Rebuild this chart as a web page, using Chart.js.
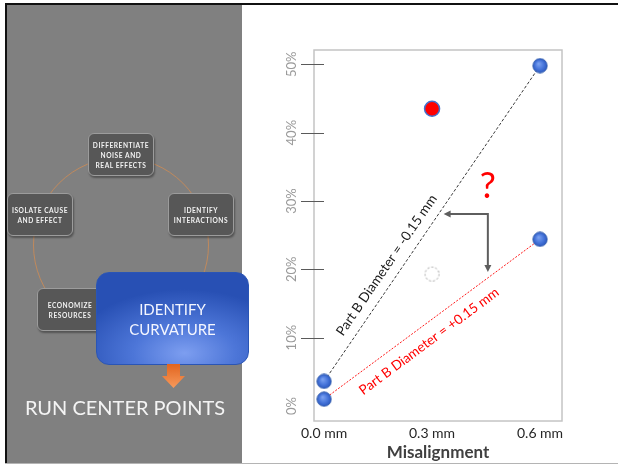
<!DOCTYPE html>
<html>
<head>
<meta charset="utf-8">
<script src="https://cdn.jsdelivr.net/npm/chart.js@4.4.1/dist/chart.umd.min.js"></script>
<style>
  html, body { margin: 0; padding: 0; background: #ffffff; }
  #slide { position: relative; width: 618px; height: 465px; overflow: hidden; background: #ffffff; font-family: Lato, "Open Sans", sans-serif; }
  #chart { position: absolute; left: 0; top: 0; z-index: 1; }
  .frame { position: absolute; z-index: 5; }
  #panel { position: absolute; left: 7px; top: 5px; width: 235px; height: 459px; background: #808080; z-index: 2; }
  #ring { position: absolute; left: 33px; top: 157px; width: 176px; height: 176px; border-radius: 50%;
          border: 1.5px solid rgba(214, 140, 80, 0.75); box-sizing: border-box; z-index: 3; }
  .step { position: absolute; z-index: 4; width: 66px; height: 43px; box-sizing: border-box;
          background: #575757; border: 1.5px solid #9c9c9c; border-radius: 6px;
          box-shadow: 1px 2px 2px rgba(0,0,0,0.35);
          display: flex; align-items: center; justify-content: center; text-align: center;
          color: #f2f2f2; font-family: Lato, sans-serif; font-weight: bold; font-size: 6.6px; line-height: 10px; letter-spacing: 0.55px; }
  #focus { position: absolute; z-index: 6; left: 96px; top: 272px; width: 153px; height: 93px; box-sizing: border-box;
           border-radius: 13px; border: 1px solid #2a55b5;
           background: radial-gradient(ellipse 75% 70% at 58% 88%, #7d9ef0 0%, #4d76d8 45%, #2850b4 100%);
           display: flex; align-items: center; justify-content: center; text-align: center;
           color: #f4f6ff; font-family: Lato, sans-serif; font-size: 15px; line-height: 20px; }
  #down { position: absolute; z-index: 6; left: 160px; top: 364px; }
  #run { position: absolute; z-index: 6; left: 7px; width: 236px; top: 394px; text-align: center;
         color: #f4f4f4; font-family: Lato, sans-serif; font-size: 20px; line-height: 26px; }
</style>
</head>
<body>
<div id="slide">
  <canvas id="chart" width="618" height="465"></canvas>
  <div id="panel"></div>
  <div id="ring"></div>
  <div class="step" style="left:88px;top:133px;">DIFFERENTIATE<br>NOISE AND<br>REAL EFFECTS</div>
  <div class="step" style="left:168px;top:193px;">IDENTIFY<br>INTERACTIONS</div>
  <div class="step" style="left:7px;top:193px;">ISOLATE CAUSE<br>AND EFFECT</div>
  <div class="step" style="left:37px;top:288px;">ECONOMIZE<br>RESOURCES</div>
  <div id="focus">IDENTIFY<br>CURVATURE</div>
  <svg id="down" width="28" height="26" viewBox="0 0 28 26">
    <defs>
      <linearGradient id="og" x1="0" y1="0" x2="0" y2="1">
        <stop offset="0" stop-color="#e2641e"/>
        <stop offset="1" stop-color="#f79a5c"/>
      </linearGradient>
    </defs>
    <polygon points="7,0 20,0 20,12 25,12 13.5,24 2,12 7,12" fill="url(#og)"/>
  </svg>
  <div id="run">RUN CENTER POINTS</div>
  <div class="frame" style="left:5px;top:3px;width:613px;height:2px;background:#111;"></div>
  <div class="frame" style="left:5px;top:3px;width:2px;height:461px;background:#111;"></div>
  <div class="frame" style="left:5px;top:463px;width:613px;height:1px;background:#b4b4b4;"></div>
</div>
<script>
// Misalignment (mm) at the two corner runs and the centre run
const misalignment = [0, 0.6];
const centerMisalignment = [0.3];
// Percentage response for each Part B diameter setting
const minusDiameter = [3.6, 49.8];   // Part B Diameter = -0.15 mm
const plusDiameter = [1.0, 24.4];    // Part B Diameter = +0.15 mm
const centerObserved = [43.5];       // measured centre point
const centerExpected = [19.3];       // centre point expected if linear
// Axis ticks
const xTickValues = [0, 0.3, 0.6];
const yTickValues = [0, 10, 20, 30, 40, 50];
// Line captions and callout
const minusLabel = 'Part B Diameter = -0.15 mm';
const plusLabel = 'Part B Diameter = +0.15 mm';
const questionAt = [0.455, 32.1];
const elbowCorner = [0.455, 28.1];

function toPoints(xs, ys) { return xs.map((x, i) => ({ x: x, y: ys[i] })); }

function makeBall(size, r) {
  const c = document.createElement('canvas');
  c.width = size; c.height = size;
  const g = c.getContext('2d');
  const m = size / 2;
  const grad = g.createRadialGradient(m - 1.5, m - 2, 0.5, m, m, r);
  grad.addColorStop(0, '#7aa0f0');
  grad.addColorStop(0.55, '#4a78dc');
  grad.addColorStop(1, '#2b58c0');
  g.beginPath(); g.arc(m, m, r, 0, Math.PI * 2);
  g.fillStyle = grad; g.fill();
  g.lineWidth = 0.8; g.strokeStyle = '#2f5aa8'; g.stroke();
  return c;
}
function makeRing(size, r) {
  const c = document.createElement('canvas');
  c.width = size; c.height = size;
  const g = c.getContext('2d');
  g.setLineDash([2, 2]);
  g.lineWidth = 1; g.strokeStyle = '#9a9a9a';
  g.beginPath(); g.arc(size / 2, size / 2, r, 0, Math.PI * 2); g.stroke();
  return c;
}
const ball = makeBall(16, 7.2);
const ring = makeRing(17, 7);

const decorations = {
  id: 'decorations',
  beforeDatasetsDraw(chart) {
    const { ctx, chartArea: a, scales: { y } } = chart;
    ctx.save();
    ctx.strokeStyle = '#c4c4c4';
    ctx.lineWidth = 1.5;
    ctx.strokeRect(a.left, a.top, a.right - a.left, a.bottom - a.top);
    // short tick marks crossing the value axis
    ctx.strokeStyle = '#5a5a5a';
    ctx.lineWidth = 1;
    y.ticks.forEach(t => {
      if (t.value === 0) return;
      const py = Math.round(y.getPixelForValue(t.value)) + 0.5;
      ctx.beginPath(); ctx.moveTo(a.left - 13, py); ctx.lineTo(a.left + 10, py); ctx.stroke();
    });
    ctx.restore();
  },
  afterDatasetsDraw(chart) {
    const { ctx, scales: { x, y } } = chart;
    const px = v => x.getPixelForValue(v);
    const py = v => y.getPixelForValue(v);

    function caption(xs, ys, frac, offset, text, color) {
      const x0 = px(xs[0]), y0 = py(ys[0]), x1 = px(xs[1]), y1 = py(ys[1]);
      const dx = x1 - x0, dy = y1 - y0, len = Math.hypot(dx, dy);
      const ux = dx / len, uy = dy / len;
      const nx = uy, ny = -ux; // normal pointing up-left
      const cx = x0 + dx * frac + nx * offset, cy = y0 + dy * frac + ny * offset;
      ctx.save();
      ctx.translate(cx, cy);
      ctx.rotate(Math.atan2(dy, dx));
      ctx.font = '13.5px Lato, sans-serif';
      ctx.fillStyle = color;
      ctx.textAlign = 'center';
      ctx.textBaseline = 'middle';
      ctx.fillText(text, 0, 0);
      ctx.restore();
    }
    caption(misalignment, minusDiameter, 0.343, 14, minusLabel, '#1a1a1a');
    caption(misalignment, plusDiameter, 0.442, -16, plusLabel, '#ff0000');

    ctx.save();
    ctx.font = '36px Lato, sans-serif';
    ctx.fillStyle = '#ff0000';
    ctx.textAlign = 'center';
    ctx.textBaseline = 'middle';
    ctx.fillText('?', px(questionAt[0]), py(questionAt[1]));

    // elbow connector between the two lines
    const cx = px(elbowCorner[0]), cy = py(elbowCorner[1]);
    const fMinus = (elbowCorner[1] - minusDiameter[0]) / (minusDiameter[1] - minusDiameter[0]);
    const leftTip = px(misalignment[0] + fMinus * (misalignment[1] - misalignment[0])) + 5;
    const fPlus = (elbowCorner[0] - misalignment[0]) / (misalignment[1] - misalignment[0]);
    const downTip = py(plusDiameter[0] + fPlus * (plusDiameter[1] - plusDiameter[0])) - 6;
    ctx.strokeStyle = '#5e5e5e';
    ctx.fillStyle = '#5e5e5e';
    ctx.lineWidth = 2;
    ctx.beginPath();
    ctx.moveTo(leftTip + 6, cy); ctx.lineTo(cx, cy); ctx.lineTo(cx, downTip - 6);
    ctx.stroke();
    ctx.beginPath();
    ctx.moveTo(leftTip, cy); ctx.lineTo(leftTip + 7, cy - 3.5); ctx.lineTo(leftTip + 7, cy + 3.5); ctx.closePath(); ctx.fill();
    ctx.beginPath();
    ctx.moveTo(cx, downTip); ctx.lineTo(cx - 3.5, downTip - 7); ctx.lineTo(cx + 3.5, downTip - 7); ctx.closePath(); ctx.fill();
    ctx.restore();
  }
};

new Chart(document.getElementById('chart'), {
  type: 'scatter',
  data: {
    datasets: [
      {
        data: toPoints(centerMisalignment, centerObserved),
        pointRadius: 7.5, pointBackgroundColor: '#ff0000', pointBorderColor: '#4470cc', pointBorderWidth: 1.5
      },
      {
        data: toPoints(misalignment, minusDiameter),
        showLine: true, borderColor: '#3a3a3a', borderWidth: 1, borderDash: [3, 2],
        pointStyle: ball, pointRadius: 7
      },
      {
        data: toPoints(misalignment, plusDiameter),
        showLine: true, borderColor: '#ff1a1a', borderWidth: 1, borderDash: [2, 1.5],
        pointStyle: ball, pointRadius: 7
      },
      {
        data: toPoints(centerMisalignment, centerExpected),
        pointStyle: ring, pointRadius: 7
      }
    ]
  },
  options: {
    responsive: false,
    animation: false,
    events: [],
    layout: { padding: { left: 250, top: 50, right: 56, bottom: 0 } },
    plugins: { legend: { display: false }, tooltip: { enabled: false } },
    scales: {
      x: {
        type: 'linear', min: -0.028, max: 0.661,
        afterBuildTicks: s => { s.ticks = xTickValues.map(v => ({ value: v })); },
        afterFit: s => { s.height = 44; },
        grid: { display: false, drawTicks: false },
        border: { display: false },
        ticks: {
          callback: v => v.toFixed(1) + ' mm', maxRotation: 0, padding: 4,
          color: '#262626', font: { family: 'Lato', size: 14 }
        },
        title: {
          display: true, text: 'Misalignment', color: '#404040',
          font: { family: 'Lato', size: 17, weight: 'bold' }, padding: { top: 0, bottom: 2 }
        }
      },
      y: {
        type: 'linear', min: -2.2, max: 52.1,
        afterBuildTicks: s => { s.ticks = yTickValues.map(v => ({ value: v })); },
        afterFit: s => { s.width = 64; },
        grid: { display: false, drawTicks: false },
        border: { display: false },
        ticks: {
          callback: v => v + '%', minRotation: 90, maxRotation: 90, crossAlign: 'center', padding: 9,
          color: '#9a9a9a', font: { family: 'Lato', size: 13 }
        }
      }
    }
  },
  plugins: [decorations]
});
</script>
</body>
</html>
